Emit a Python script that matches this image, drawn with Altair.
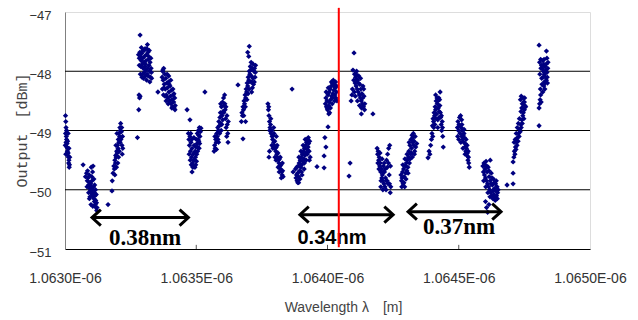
import altair as alt
import pandas as pd

cluster_a = [(1063.002,-48.75),(1063.003,-48.85),(1063.004,-48.95),(1063.002,-49.05),(1063.005,-49.10),
             (1063.006,-49.15),(1063.004,-49.20),(1063.008,-49.22),(1063.007,-49.28),(1063.010,-49.30),
             (1063.009,-49.35),(1063.012,-49.38),(1063.011,-49.42),(1063.013,-49.45),(1063.015,-49.50),
             (1063.014,-49.55),(1063.017,-49.58),(1063.016,-49.62),(1063.006,-49.00),(1063.010,-49.18),
             (1063.001,-49.25),(1063.003,-49.40),(1063.012,-49.05),(1063.015,-49.30),(1063.018,-49.45)]
cluster_b = [(1063.069,-49.58),(1063.078,-49.78),(1063.082,-49.72),(1063.085,-49.85),(1063.088,-49.80),
             (1063.090,-49.92),(1063.092,-49.75),(1063.094,-49.88),(1063.095,-49.98),(1063.097,-50.02),
             (1063.098,-49.90),(1063.100,-49.95),(1063.101,-50.05),(1063.103,-49.85),(1063.104,-50.08),
             (1063.105,-50.00),(1063.107,-50.12),(1063.108,-49.95),(1063.110,-50.15),(1063.111,-50.05),
             (1063.112,-50.20),(1063.114,-50.10),(1063.115,-50.25),(1063.117,-50.18),(1063.118,-50.30),
             (1063.120,-50.22),(1063.121,-50.35),(1063.105,-49.70),(1063.100,-49.62),(1063.110,-49.82),
             (1063.090,-50.05),(1063.095,-50.12),(1063.107,-49.60),(1063.084,-49.95),(1063.164,-50.25),
             (1063.179,-50.02),(1063.086,-49.68),(1063.093,-50.15),(1063.099,-50.25),(1063.102,-49.78),
             (1063.113,-49.92),(1063.116,-50.00),(1063.119,-50.08),(1063.106,-50.28),(1063.122,-50.30)]
cluster_c = [(1063.180,-49.85),(1063.183,-49.72),(1063.186,-49.60),(1063.188,-49.65),(1063.190,-49.50),
             (1063.192,-49.55),(1063.193,-49.42),(1063.195,-49.45),(1063.197,-49.35),(1063.199,-49.38),
             (1063.200,-49.25),(1063.202,-49.30),(1063.203,-49.15),(1063.205,-49.20),(1063.206,-49.05),
             (1063.208,-49.10),(1063.209,-48.95),(1063.211,-49.00),(1063.212,-48.88),(1063.214,-49.12),
             (1063.215,-49.02),(1063.217,-49.25),(1063.218,-49.40),(1063.220,-49.30),(1063.196,-49.62),
             (1063.204,-49.45),(1063.210,-49.20),(1063.190,-49.75),(1063.198,-49.05),(1063.201,-49.55),
             (1063.207,-49.35),(1063.213,-49.15),(1063.216,-48.95),(1063.219,-49.10),(1063.194,-49.25)]
cluster_d = [(1063.286,-47.39),(1063.280,-47.72),(1063.283,-47.78),(1063.285,-47.68),(1063.288,-47.75),
             (1063.290,-47.82),(1063.292,-47.70),(1063.294,-47.88),(1063.296,-47.78),(1063.298,-47.95),
             (1063.300,-47.85),(1063.302,-48.02),(1063.304,-47.92),(1063.306,-48.08),(1063.308,-47.98),
             (1063.310,-47.72),(1063.312,-47.62),(1063.314,-47.55),(1063.316,-47.68),(1063.318,-47.80),
             (1063.320,-47.90),(1063.322,-48.00),(1063.324,-47.85),(1063.326,-48.10),(1063.328,-47.95),
             (1063.330,-48.12),(1063.289,-47.92),(1063.295,-48.05),(1063.301,-47.65),(1063.307,-47.88),
             (1063.313,-48.05),(1063.319,-47.75),(1063.282,-48.40),(1063.284,-48.45),(1063.286,-48.42),
             (1063.281,-48.65),(1063.276,-49.12),(1063.283,-47.90),(1063.287,-48.05),(1063.291,-47.60),
             (1063.293,-48.10),(1063.297,-47.65),(1063.299,-48.12),(1063.303,-47.75),(1063.305,-47.62),
             (1063.309,-47.82),(1063.311,-48.15),(1063.315,-47.95),(1063.317,-48.08),(1063.321,-47.65),
             (1063.323,-48.18),(1063.327,-47.78),(1063.329,-48.02)]
cluster_e = [(1063.354,-48.35),(1063.370,-48.10),(1063.372,-48.00),(1063.374,-48.15),(1063.376,-47.95),
             (1063.378,-48.22),(1063.380,-48.05),(1063.382,-48.30),(1063.384,-48.12),(1063.386,-48.40),
             (1063.388,-48.20),(1063.390,-48.28),(1063.392,-48.45),(1063.394,-48.18),(1063.396,-48.35),
             (1063.398,-48.50),(1063.400,-48.25),(1063.402,-48.42),(1063.404,-48.55),(1063.406,-48.32),
             (1063.408,-48.48),(1063.410,-48.60),(1063.412,-48.40),(1063.414,-48.52),(1063.416,-48.62),
             (1063.418,-48.45),(1063.420,-48.58),(1063.385,-48.50),(1063.375,-48.40),(1063.395,-48.08),
             (1063.465,-48.65),(1063.476,-48.82),(1063.533,-48.35),(1063.371,-48.30),(1063.373,-47.98),
             (1063.377,-48.28),(1063.381,-48.42),(1063.389,-48.05),(1063.393,-48.55),(1063.397,-48.22),
             (1063.403,-48.15),(1063.407,-48.62),(1063.411,-48.30),(1063.415,-48.38),(1063.419,-48.65)]
cluster_f = [(1063.470,-49.05),(1063.472,-49.15),(1063.474,-49.25),(1063.476,-49.10),(1063.478,-49.35),
             (1063.480,-49.20),(1063.482,-49.45),(1063.484,-49.30),(1063.486,-49.55),(1063.488,-49.40),
             (1063.490,-49.60),(1063.492,-49.25),(1063.494,-49.50),(1063.496,-49.35),(1063.498,-49.58),
             (1063.500,-49.15),(1063.502,-49.40),(1063.504,-49.05),(1063.506,-49.28),(1063.508,-49.00),
             (1063.510,-49.18),(1063.512,-48.95),(1063.514,-49.10),(1063.516,-49.02),(1063.518,-48.96),
             (1063.484,-49.70),(1063.479,-49.05),(1063.491,-49.12),(1063.497,-49.45),(1063.503,-49.22),
             (1063.487,-49.62),(1063.481,-49.58),(1063.509,-49.08),(1063.473,-49.40),(1063.477,-49.50),
             (1063.483,-49.15),(1063.489,-49.50),(1063.493,-49.38),(1063.495,-49.62),(1063.499,-49.28),
             (1063.501,-49.52),(1063.505,-49.35),(1063.507,-49.15),(1063.511,-49.30),(1063.513,-49.22)]
cluster_g = [(1063.568,-49.35),(1063.570,-49.25),(1063.572,-49.30),(1063.574,-49.15),(1063.576,-49.20),
             (1063.578,-49.05),(1063.580,-49.10),(1063.582,-48.95),(1063.584,-49.00),(1063.586,-48.85),
             (1063.588,-48.92),(1063.590,-48.78),(1063.592,-48.70),(1063.594,-48.88),(1063.596,-48.60),
             (1063.598,-48.75),(1063.600,-48.52),(1063.602,-48.68),(1063.604,-48.45),(1063.606,-48.58),
             (1063.608,-48.40),(1063.610,-48.65),(1063.612,-48.80),(1063.614,-48.95),(1063.616,-49.10),
             (1063.618,-48.90),(1063.620,-49.05),(1063.622,-48.85),(1063.585,-49.20),(1063.595,-49.00),
             (1063.571,-49.10),(1063.577,-49.32),(1063.583,-49.15),(1063.589,-49.05),(1063.593,-48.55),
             (1063.597,-48.90),(1063.601,-48.82),(1063.605,-48.70),(1063.609,-48.55),(1063.613,-48.60),
             (1063.617,-48.75),(1063.621,-49.20)]
cluster_h = [(1063.672,-48.85),(1063.674,-48.70),(1063.676,-48.75),(1063.678,-48.60),(1063.680,-48.65),
             (1063.682,-48.50),(1063.684,-48.55),(1063.686,-48.40),(1063.688,-48.45),(1063.690,-48.30),
             (1063.692,-48.35),(1063.694,-48.20),(1063.696,-48.25),(1063.698,-48.10),(1063.700,-48.15),
             (1063.702,-48.00),(1063.704,-48.05),(1063.706,-47.92),(1063.708,-47.98),(1063.710,-48.08),
             (1063.712,-48.18),(1063.714,-48.28),(1063.716,-48.12),(1063.718,-48.22),(1063.720,-48.00),
             (1063.722,-47.95),(1063.724,-48.10),(1063.726,-47.90),(1063.700,-47.75),(1063.702,-47.58),
             (1063.696,-47.68),(1063.659,-48.23),(1063.678,-49.14),(1063.688,-48.85),(1063.681,-48.75),
             (1063.687,-48.60),(1063.693,-48.48),(1063.697,-48.38),(1063.701,-48.30),(1063.705,-48.18),
             (1063.709,-47.85),(1063.713,-47.95),(1063.717,-47.88),(1063.721,-48.18),(1063.725,-48.02),
             (1063.711,-48.35)]
cluster_i = [(1063.773,-48.55),(1063.775,-48.65),(1063.777,-48.75),(1063.779,-48.85),(1063.781,-48.95),
             (1063.783,-48.90),(1063.785,-49.05),(1063.787,-49.00),(1063.789,-49.10),(1063.791,-49.15),
             (1063.793,-49.08),(1063.795,-49.20),(1063.797,-49.25),(1063.799,-49.18),(1063.801,-49.30),
             (1063.803,-49.35),(1063.805,-49.28),(1063.807,-49.40),(1063.809,-49.45),(1063.811,-49.38),
             (1063.813,-49.50),(1063.815,-49.55),(1063.817,-49.48),(1063.819,-49.60),(1063.821,-49.65),
             (1063.823,-49.58),(1063.825,-49.70),(1063.827,-49.75),(1063.829,-49.68),(1063.831,-49.78),
             (1063.779,-49.35),(1063.777,-49.45),(1063.795,-48.95),(1063.805,-49.10),(1063.865,-48.30),
             (1063.776,-48.60),(1063.780,-49.00),(1063.784,-48.80),(1063.788,-49.25),(1063.792,-49.30),
             (1063.796,-49.05),(1063.800,-49.45),(1063.804,-49.50),(1063.808,-49.25),(1063.812,-49.62),
             (1063.816,-49.70),(1063.820,-49.45),(1063.824,-49.80),(1063.828,-49.55)]
cluster_j = [(1063.869,-49.70),(1063.878,-49.65),(1063.880,-49.80),(1063.882,-49.75),(1063.884,-49.85),
             (1063.886,-49.72),(1063.888,-49.60),(1063.890,-49.78),(1063.892,-49.55),(1063.894,-49.68),
             (1063.896,-49.50),(1063.898,-49.62),(1063.900,-49.45),(1063.902,-49.58),(1063.904,-49.40),
             (1063.906,-49.52),(1063.908,-49.35),(1063.910,-49.48),(1063.912,-49.30),(1063.914,-49.42),
             (1063.916,-49.25),(1063.918,-49.38),(1063.920,-49.20),(1063.922,-49.32),(1063.924,-49.15),
             (1063.926,-49.28),(1063.928,-49.22),(1063.930,-49.35),(1063.932,-49.18),(1063.934,-49.45),
             (1063.890,-49.88),(1063.901,-49.70),(1063.912,-49.55),
             (1063.960,-49.61),(1063.987,-49.63),(1063.987,-49.43),(1063.990,-49.12),(1063.994,-49.28),
             (1064.002,-48.94),(1063.883,-49.62),(1063.887,-49.88),(1063.891,-49.45),(1063.895,-49.82),
             (1063.899,-49.35),(1063.903,-49.75),(1063.907,-49.25),(1063.911,-49.65),(1063.915,-49.15),
             (1063.919,-49.50),(1063.923,-49.40),(1063.927,-49.12),(1063.931,-49.50)]
cluster_k = [(1063.992,-48.55),(1063.994,-48.45),(1063.996,-48.60),(1063.998,-48.50),(1064.000,-48.65),
             (1064.002,-48.40),(1064.004,-48.58),(1064.006,-48.35),(1064.008,-48.70),(1064.010,-48.30),
             (1064.012,-48.48),(1064.014,-48.25),(1064.016,-48.42),(1064.018,-48.20),(1064.020,-48.38),
             (1064.022,-48.15),(1064.024,-48.32),(1064.026,-48.22),(1064.028,-48.40),(1064.030,-48.28),
             (1064.032,-48.45),(1064.034,-48.35),(1064.036,-48.50),(1064.005,-48.72),(1064.018,-48.55),
             (1063.995,-48.35),(1063.999,-48.62),(1064.003,-48.28),(1064.007,-48.52),(1064.011,-48.62),
             (1064.015,-48.18),(1064.019,-48.45),(1064.023,-48.25),(1064.027,-48.50),(1064.031,-48.18),
             (1064.035,-48.25)]
cluster_l = [(1064.101,-47.69),(1064.097,-47.98),(1064.100,-48.15),(1064.103,-48.05),(1064.105,-48.20),
             (1064.107,-48.10),(1064.109,-48.25),(1064.111,-48.00),(1064.113,-48.30),(1064.115,-48.15),
             (1064.117,-48.35),(1064.119,-48.08),(1064.121,-48.40),(1064.123,-48.22),(1064.125,-48.45),
             (1064.127,-48.30),(1064.129,-48.50),(1064.131,-48.38),(1064.133,-48.55),(1064.135,-48.25),
             (1064.137,-48.60),(1064.139,-48.42),(1064.141,-48.65),(1064.090,-48.50),(1064.093,-48.40),
             (1064.095,-48.30),(1064.129,-48.72),(1064.109,-48.05),(1064.173,-48.72),
             (1064.086,-49.55),(1064.082,-49.77),(1064.102,-48.35),(1064.106,-48.42),(1064.110,-48.15),
             (1064.114,-48.50),(1064.118,-48.20),(1064.122,-48.58),(1064.126,-48.12),(1064.130,-48.62),
             (1064.134,-48.45),(1064.138,-48.30),(1064.142,-48.55)]
cluster_m = [(1064.189,-49.30),(1064.191,-49.40),(1064.193,-49.35),(1064.195,-49.50),(1064.197,-49.45),
             (1064.199,-49.60),(1064.201,-49.55),(1064.203,-49.70),(1064.205,-49.65),(1064.207,-49.80),
             (1064.209,-49.75),(1064.211,-49.85),(1064.213,-49.60),(1064.215,-49.90),(1064.217,-49.70),
             (1064.219,-49.95),(1064.221,-49.80),(1064.223,-50.00),(1064.225,-49.50),(1064.227,-49.85),
             (1064.229,-49.40),(1064.231,-49.90),(1064.233,-49.30),(1064.235,-49.75),(1064.237,-49.25),
             (1064.239,-50.05),(1064.241,-49.95),(1064.203,-49.95),(1064.211,-50.00),(1064.192,-49.55),
             (1064.196,-49.65),(1064.200,-49.38),(1064.204,-49.85),(1064.208,-49.48),(1064.212,-49.70),
             (1064.216,-49.55),(1064.220,-49.65),(1064.224,-49.85),(1064.228,-49.62),(1064.232,-49.55),
             (1064.236,-49.90),(1064.240,-49.60)]
cluster_n = [(1064.280,-49.75),(1064.282,-49.85),(1064.284,-49.80),(1064.286,-49.70),(1064.288,-49.90),
             (1064.290,-49.65),(1064.292,-49.78),(1064.294,-49.95),(1064.296,-49.60),(1064.298,-49.72),
             (1064.300,-49.55),(1064.302,-49.68),(1064.304,-49.50),(1064.306,-49.62),(1064.308,-49.45),
             (1064.310,-49.35),(1064.312,-49.55),(1064.314,-49.25),(1064.316,-49.40),(1064.318,-49.15),
             (1064.320,-49.30),(1064.322,-49.08),(1064.324,-49.20),(1064.326,-49.12),(1064.328,-49.25),
             (1064.330,-49.18),(1064.332,-49.35),(1064.334,-49.10),(1064.336,-49.28),(1064.340,-49.22),
             (1064.283,-49.95),(1064.287,-49.58),(1064.291,-49.88),(1064.295,-49.48),(1064.299,-49.82),
             (1064.303,-49.40),(1064.307,-49.72),(1064.311,-49.20),(1064.315,-49.48),(1064.319,-49.38),
             (1064.323,-49.45),(1064.327,-49.05),(1064.331,-49.40)]
cluster_o = [(1064.383,-49.46),(1064.387,-49.35),(1064.390,-49.40),(1064.393,-49.25),(1064.396,-49.15),
             (1064.398,-49.05),(1064.400,-48.92),(1064.402,-48.80),(1064.404,-48.85),(1064.406,-48.70),
             (1064.408,-48.75),(1064.410,-48.60),(1064.412,-48.65),(1064.414,-48.50),(1064.416,-48.72),
             (1064.418,-48.55),(1064.420,-48.82),(1064.422,-48.62),(1064.424,-48.45),(1064.426,-48.68),
             (1064.428,-48.58),(1064.429,-48.35),(1064.431,-48.78),(1064.433,-48.90),(1064.435,-49.00),
             (1064.437,-48.85),(1064.439,-49.10),(1064.441,-49.28),(1064.412,-48.40),(1064.420,-48.95),
             (1064.401,-49.10),(1064.405,-48.95),(1064.409,-48.90),(1064.413,-48.80),(1064.417,-48.45),
             (1064.421,-48.50),(1064.425,-48.78),(1064.427,-48.48),(1064.430,-48.70),(1064.434,-48.75),
             (1064.438,-48.95)]
cluster_p = [(1064.495,-48.95),(1064.497,-48.85),(1064.499,-49.00),(1064.501,-48.90),(1064.503,-48.78),
             (1064.505,-49.05),(1064.507,-48.75),(1064.509,-48.95),(1064.511,-49.10),(1064.513,-49.00),
             (1064.515,-49.15),(1064.517,-49.08),(1064.519,-49.20),(1064.521,-49.12),(1064.523,-49.28),
             (1064.525,-49.22),(1064.527,-49.35),(1064.529,-49.30),(1064.531,-49.42),(1064.533,-49.38),
             (1064.535,-49.50),(1064.537,-49.45),(1064.540,-49.62),(1064.511,-48.82),(1064.520,-48.98),
             (1064.496,-49.10),(1064.500,-49.15),(1064.504,-48.92),(1064.508,-49.20),(1064.512,-48.90),
             (1064.516,-49.30),(1064.520,-49.05),(1064.524,-49.40),(1064.528,-49.15),(1064.532,-49.25),
             (1064.536,-49.35),(1064.538,-49.55)]
cluster_q = [(1064.592,-49.60),(1064.594,-49.70),(1064.596,-49.55),(1064.598,-49.75),(1064.600,-49.65),
             (1064.602,-49.80),(1064.604,-49.52),(1064.606,-49.85),(1064.608,-49.70),(1064.610,-49.90),
             (1064.612,-49.62),(1064.614,-49.95),(1064.616,-49.78),(1064.618,-50.00),(1064.620,-49.85),
             (1064.622,-50.05),(1064.624,-49.72),(1064.626,-50.10),(1064.628,-49.92),(1064.630,-50.15),
             (1064.632,-49.82),(1064.634,-50.08),(1064.636,-49.98),(1064.638,-50.12),(1064.640,-49.90),
             (1064.642,-50.02),(1064.644,-50.10),(1064.646,-49.95),(1064.648,-50.05),(1064.650,-50.00),
             (1064.602,-50.20),(1064.606,-50.30),(1064.610,-50.38),(1064.615,-50.25),(1064.620,-49.50),
             (1064.684,-49.92),(1064.707,-49.90),(1064.707,-49.72),(1064.707,-49.53),(1064.595,-49.85),
             (1064.599,-49.58),(1064.603,-49.95),(1064.607,-49.60),(1064.611,-50.05),(1064.615,-49.68),
             (1064.619,-50.12),(1064.623,-49.90),(1064.627,-49.80),(1064.631,-50.02),(1064.635,-49.88),
             (1064.639,-50.18),(1064.643,-49.85),(1064.647,-50.15)]
cluster_r = [(1064.710,-49.45),(1064.712,-49.35),(1064.714,-49.40),(1064.716,-49.28),(1064.718,-49.32),
             (1064.720,-49.20),(1064.722,-49.25),(1064.724,-49.12),(1064.726,-49.18),(1064.728,-49.05),
             (1064.730,-49.10),(1064.732,-48.98),(1064.734,-49.02),(1064.736,-48.90),(1064.738,-48.95),
             (1064.740,-48.82),(1064.742,-48.88),(1064.744,-48.75),(1064.746,-48.70),(1064.748,-48.80),
             (1064.750,-48.65),(1064.752,-48.58),(1064.740,-48.62),(1064.735,-48.48),(1064.738,-48.42),
             (1064.745,-48.45),(1064.750,-48.52),(1064.755,-48.60),(1064.742,-48.55),(1064.711,-49.20),
             (1064.715,-49.15),(1064.719,-49.05),(1064.723,-48.95),(1064.727,-48.88),(1064.731,-48.80),
             (1064.737,-48.68),(1064.743,-48.62),(1064.747,-48.52),(1064.751,-48.45)]
cluster_s = [(1064.806,-47.56),(1064.834,-47.66),(1064.808,-47.85),(1064.812,-47.80),(1064.815,-47.90),
             (1064.818,-47.95),(1064.820,-47.82),(1064.822,-48.00),(1064.824,-47.88),(1064.826,-48.05),
             (1064.828,-47.92),(1064.830,-48.10),(1064.832,-47.98),(1064.834,-48.15),(1064.836,-48.02),
             (1064.838,-48.20),(1064.824,-48.25),(1064.828,-48.30),(1064.820,-48.35),(1064.812,-48.40),
             (1064.810,-48.48),(1064.808,-48.55),(1064.806,-48.62),(1064.814,-48.52),(1064.806,-48.92),
             (1064.840,-47.85),(1064.836,-47.78),(1064.816,-48.12),(1064.826,-48.18),(1064.809,-48.05),
             (1064.813,-47.95),(1064.817,-48.22),(1064.821,-48.10),(1064.825,-47.80),(1064.829,-48.20),
             (1064.833,-47.88),(1064.837,-48.10),(1064.811,-48.30),(1064.839,-47.95)]

# axis / annotation values
x_ticks = [1063.0, 1063.5, 1064.0, 1064.5, 1065.0]
inner_ticks = [1063.5, 1064.0, 1064.5]
y_ticks = [-51, -50, -49, -48, -47]
grid_levels = [-48, -49, -50]
marker_nm = 1064.043
arrow_start = [1063.103, 1063.895, 1064.307]
arrow_end = [1063.470, 1064.250, 1064.661]
arrow_level = [-50.47, -50.42, -50.37]
label_text = ["0.38nm", "0.34nm", "0.37nm"]
label_x = [1063.305, 1064.017, 1064.501]
label_y = [-50.81, -50.82, -50.63]

clusters = [cluster_a, cluster_b, cluster_c, cluster_d, cluster_e, cluster_f, cluster_g,
            cluster_h, cluster_i, cluster_j, cluster_k, cluster_l, cluster_m, cluster_n,
            cluster_o, cluster_p, cluster_q, cluster_r, cluster_s]
points_df = pd.DataFrame([p for c in clusters for p in c], columns=["wl", "dbm"])

xs = alt.Scale(domain=[1063.0, 1065.0], nice=False, zero=False)
ys = alt.Scale(domain=[-51, -47], nice=False, zero=False)

x_axis = alt.Axis(values=x_ticks, labelExpr="format(datum.value/1000, '.4f') + 'E-06'",
                  labelFont="Liberation Sans", labelFontSize=14, labelColor="#333333",
                  labelPadding=22, ticks=False, tickSize=0, labelFlush=False, grid=False,
                  domainColor="#000000", domainWidth=1,
                  title="Wavelength λ\u3000[m]", titleFont="Liberation Sans", titleFontSize=14,
                  titleFontWeight="normal", titleColor="#444444", titleX=278, titleY=58,
                  titleBaseline="middle")
y_axis = alt.Axis(values=y_ticks, format="d", labelFont="Liberation Sans", labelFontSize=13,
                  labelColor="#333333", labelPadding=14, labelOffset=3, ticks=False, tickSize=0,
                  grid=False, domainColor="#808080", domainWidth=1,
                  title="Output\u3000[dBm]", titleFont="Liberation Mono", titleFontSize=15,
                  titleFontWeight="normal", titleColor="#444444", titleX=-44, titleY=118,
                  titleBaseline="middle")


def X(field):
    return alt.X(field, type="quantitative", scale=xs, axis=x_axis)


def Y(field):
    return alt.Y(field, type="quantitative", scale=ys, axis=y_axis)


grid_df = pd.DataFrame({"level": grid_levels, "x0": 1063.0, "x1": 1065.0})
grid = alt.Chart(grid_df).mark_rule(color="#000000", strokeWidth=1).encode(
    x=X("x0"), x2="x1", y=Y("level"))

tick_df = pd.DataFrame({"t": inner_ticks, "y0": -51.0, "y1": -50.93})
ticks = alt.Chart(tick_df).mark_rule(color="#555555", strokeWidth=1).encode(
    x=X("t"), y=Y("y0"), y2="y1")

points = alt.Chart(points_df).mark_point(shape="diamond", filled=True, size=28,
                                         color="#000080", opacity=1, strokeWidth=0).encode(
    x=X("wl"), y=Y("dbm"))

arrow_df = pd.DataFrame({"s": arrow_start, "e": arrow_end, "lv": arrow_level})
shaft = alt.Chart(arrow_df).mark_rule(color="black", strokeWidth=3).encode(
    x=X("s"), x2="e", y=Y("lv"))
head_l = alt.Chart(arrow_df).mark_point(shape="M 1.1 -1 L 0 0 L 1.1 1", filled=False, size=256,
                                        color="black", strokeWidth=3, opacity=1,
                                        strokeJoin="miter").encode(x=X("s"), y=Y("lv"))
head_r = alt.Chart(arrow_df).mark_point(shape="M -1.1 -1 L 0 0 L -1.1 1", filled=False, size=256,
                                        color="black", strokeWidth=3, opacity=1,
                                        strokeJoin="miter").encode(x=X("e"), y=Y("lv"))

lab_df = pd.DataFrame({"t": label_text, "x": label_x, "y": label_y})
serif_labels = alt.Chart(lab_df[lab_df["t"] != "0.34nm"]).mark_text(
    font="Liberation Serif", fontSize=23, fontWeight="bold", color="black",
    baseline="middle", align="center").encode(x=X("x"), y=Y("y"), text="t:N")
sans_labels = alt.Chart(lab_df[lab_df["t"] == "0.34nm"]).mark_text(
    font="Liberation Sans", fontSize=20, fontWeight="bold", color="black",
    baseline="middle", align="center").encode(x=X("x"), y=Y("y"), text="t:N")

red_df = pd.DataFrame({"x": [marker_nm], "y0": [-46.93], "y1": [-50.97]})
red = alt.Chart(red_df).mark_rule(color="#FF0000", strokeWidth=2).encode(
    x=X("x"), y=Y("y0"), y2="y1")

chart = alt.layer(grid, ticks, points, shaft, head_l, head_r, serif_labels, sans_labels, red).properties(
    width=525, height=237,
    autosize=alt.AutoSizeParams(type="none"),
    padding={"left": 65, "top": 12, "right": 48, "bottom": 71},
).configure_view(stroke="#999999", strokeWidth=1).configure(background="white")

chart.save("out.html", embed_options={"renderer": "svg", "actions": False})
